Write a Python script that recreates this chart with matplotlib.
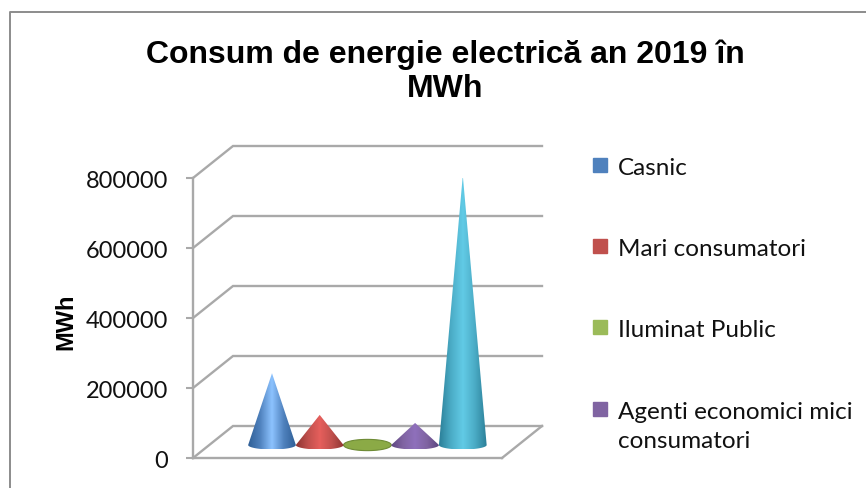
import matplotlib
matplotlib.use("Agg")
import matplotlib.pyplot as plt
import numpy as np
from matplotlib.colors import LinearSegmentedColormap
from matplotlib.lines import Line2D
from matplotlib.patches import Rectangle
from matplotlib.path import Path
from matplotlib.transforms import ScaledTranslation

W, H = 866, 488

categorii = ["Casnic", "Mari consumatori", "Iluminat Public", "Agenti economici mici\nconsumatori"]
valori = [205000, 86000, 9000, 63000, 770000]
cores = ["#4F81BD", "#C0504D", "#9BBB59", "#8064A2", "#4BACC6"]
cores_luz = ["#8DC3FF", "#E65F5C", "#8BAA46", "#8F70BC", "#62CBE6"]
cores_escuro = ["#2F5F96", "#8F3532", "#6E8B35", "#5C4680", "#2B7F98"]
y_ticks = [0, 200000, 400000, 600000, 800000]

COR_GRADE = "#A9A9A9"

fig = plt.figure(figsize=(W / 100, H / 100), dpi=100)

# eixo no plano frontal da caixa 3D (193..502 px, 178..458 px)
ax = fig.add_axes([193 / W, 1 - 458 / H, 309 / W, 280 / H])
px_x = 47.7
px_y = 800000 / 280
x0 = (193 - 272) / px_x
ax.set_xlim(x0, x0 + 309 / px_x)
ax.set_ylim(0, 800000)
dx = 40 / px_x
dy = 32 * px_y

for s in ["top", "right"]:
    ax.spines[s].set_visible(False)
for s in ["left", "bottom"]:
    ax.spines[s].set_color(COR_GRADE)
    ax.spines[s].set_linewidth(1.7)
ax.set_xticks([])
ax.set_yticks(y_ticks)
ax.set_yticklabels([str(v) for v in y_ticks], fontname="Lato", fontsize=17, color="#111111")
ax.tick_params(axis="y", length=5, width=1.5, color=COR_GRADE, pad=13)
desce = ScaledTranslation(0, -2 / 100, fig.dpi_scale_trans)
for rotulo in ax.get_yticklabels():
    rotulo.set_transform(rotulo.get_transform() + desce)
ax.set_ylabel("MWh", fontname="Liberation Sans", fontweight="bold", fontsize=17)
ax.yaxis.set_label_coords((77 - 193) / 309, (458 - 322) / 280)

xmin, xmax = ax.get_xlim()
for v in y_ticks:
    ax.plot([xmin, xmin + dx, xmax + dx], [v, v + dy, v + dy], color=COR_GRADE,
            lw=1.7, clip_on=False, zorder=1, solid_joinstyle="miter")
ax.plot([xmax, xmax + dx], [0, dy], color=COR_GRADE, lw=1.7, clip_on=False, zorder=1)

# cones no meio da profundidade, com gradiente horizontal
off_y = 13 * px_y
for i, v in enumerate(valori):
    cmap = LinearSegmentedColormap.from_list(
        f"cone{i}", [cores_escuro[i], cores[i], cores_luz[i], cores[i], cores_escuro[i]])
    meia = 0.5
    elipse_y = 4.5 * px_y
    t = np.linspace(0, np.pi, 40)
    arco_x = i + meia * np.cos(t)
    arco_y = off_y - elipse_y * np.sin(t)
    if v < 20000:
        # categoria quase nula: so a base aparece
        t = np.linspace(0, 2 * np.pi, 80)
        ax.fill(i + meia * np.cos(t), off_y + elipse_y * np.sin(t) * 1.25, color=cores_luz[i],
                ec=cores_escuro[i], lw=0.8, clip_on=False, zorder=3)
        continue
    verts = [(i, off_y + v)] + list(zip(arco_x, arco_y)) + [(i, off_y + v)]
    caminho = Path(verts)
    grad = np.linspace(0, 1, 128).reshape(1, -1)
    im = ax.imshow(grad, cmap=cmap, aspect="auto", zorder=3 + i * 0.1,
                   extent=(i - meia, i + meia, off_y - elipse_y, off_y + v), clip_on=True)
    im.set_clip_path(caminho, transform=ax.transData)
ax.set_xlim(x0, x0 + 309 / px_x)
ax.set_ylim(0, 800000)

# titulo
fig.text(445 / W, 1 - 55 / H, "Consum de energie electrică an 2019 în", ha="center", va="center",
         fontname="Liberation Sans", fontweight="bold", fontsize=23)
fig.text(445 / W, 1 - 89 / H, "MWh", ha="center", va="center",
         fontname="Liberation Sans", fontweight="bold", fontsize=23)

# legenda
leg_y = [170, 251, 332, 414]
for nome, cor, y in zip(categorii, cores, leg_y):
    fig.add_artist(Rectangle((593 / W, 1 - (y + 2) / H), 14 / W, 14 / H, color=cor,
                             transform=fig.transFigure))
    fig.text(618 / W, 1 - (y - 12) / H, nome, ha="left", va="top", fontname="Lato",
             fontsize=17.5, linespacing=1.45, color="#111111")

# moldura do grafico (cortada na direita e embaixo)
fig.add_artist(Line2D([9.5 / W, 9.5 / W, 1], [0, 1 - 11.5 / H, 1 - 11.5 / H], color="#8C8C8C",
                      lw=1.4, transform=fig.transFigure))

fig.savefig("out.png", dpi=100)
